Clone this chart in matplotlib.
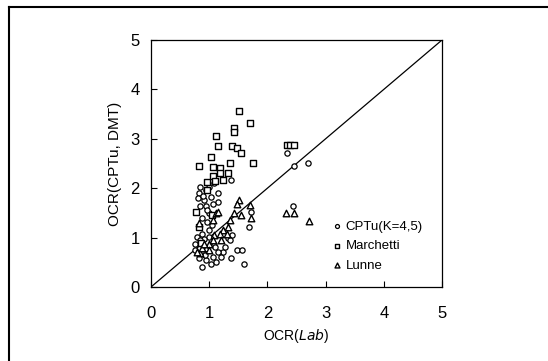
import matplotlib
matplotlib.use("Agg")
import matplotlib.pyplot as plt
from matplotlib.lines import Line2D

plt.rcParams['font.family'] = ['Liberation Sans', 'DejaVu Sans']

# CPTu (K=4.5)
cptu_x = [2.69, 2.45, 2.33, 2.44, 1.68, 1.72, 1.60, 1.38, 1.48, 1.56, 1.39, 1.33,
          1.15, 1.15, 1.38, 0.85, 0.82, 0.91, 0.85, 0.94, 1.00, 0.88, 0.97, 1.00,
          0.88, 0.76, 0.94, 1.03, 1.12, 1.21, 0.88, 0.82, 1.24, 1.27, 0.76, 1.00,
          1.03, 1.09, 0.94, 1.06, 1.36, 1.15, 1.07, 1.00, 1.09, 0.91, 0.79, 0.80,
          0.90, 0.96, 1.05, 0.84, 0.92, 1.10]
cptu_y = [2.52, 2.44, 2.71, 1.63, 1.22, 1.52, 0.47, 0.58, 0.75, 0.75, 1.05, 1.00,
          1.90, 1.73, 2.17, 2.03, 1.90, 1.76, 1.63, 1.63, 1.49, 1.39, 1.32, 1.15,
          1.08, 0.88, 0.54, 0.47, 0.51, 0.61, 0.41, 0.58, 0.71, 0.81, 0.75, 2.03,
          1.83, 2.10, 1.96, 1.69, 0.95, 0.71, 0.61, 1.01, 0.85, 0.98, 1.01, 1.80,
          1.85, 1.55, 1.25, 0.95, 0.65, 0.80]

# Marchetti
march_x = [0.82, 1.03, 1.12, 1.15, 1.07, 1.19, 1.06, 1.18, 1.24, 1.35, 1.33, 1.51,
           1.42, 1.42, 1.39, 1.47, 1.54, 1.70, 1.75, 0.97, 0.96, 0.78, 0.82, 1.05,
           2.33, 2.39, 2.45, 0.86, 1.10]
march_y = [2.44, 2.64, 3.06, 2.86, 2.42, 2.40, 2.24, 2.30, 2.17, 2.51, 2.30, 3.56,
           3.22, 3.13, 2.85, 2.81, 2.71, 3.32, 2.52, 2.13, 1.96, 1.52, 1.22, 1.46,
           2.87, 2.87, 2.87, 0.90, 2.15]

# Lunne
lunne_x = [2.32, 2.45, 2.71, 1.70, 1.72, 1.51, 1.47, 1.42, 1.54, 1.36, 1.33, 1.24,
           1.18, 1.12, 1.15, 1.06, 1.09, 1.00, 0.94, 0.85, 0.82, 0.88, 1.21, 1.06,
           1.00, 1.30, 0.91, 0.79]
lunne_y = [1.49, 1.49, 1.34, 1.66, 1.39, 1.76, 1.69, 1.49, 1.46, 1.36, 1.22, 1.15,
           1.08, 1.49, 1.52, 1.36, 1.05, 0.88, 0.78, 0.68, 1.29, 0.78, 0.95, 0.95,
           0.75, 1.08, 0.88, 0.71]

ticks = [0, 1, 2, 3, 4, 5]

fig = plt.figure(figsize=(5.48, 3.61), dpi=100)
ax = fig.add_axes([151 / 548, 1 - 287 / 361, 291 / 548, 247 / 361])

ax.plot([0, 5], [0, 5], color='black', lw=0.9, zorder=1)

ax.scatter(cptu_x, cptu_y, s=3.8 ** 2, marker='o', facecolors='white',
           edgecolors='black', linewidths=0.9, zorder=3, label='CPTu(K=4,5)')
ax.scatter(march_x, march_y, s=4.3 ** 2, marker='s', facecolors='white',
           edgecolors='black', linewidths=1.0, zorder=3, label='Marchetti')
ax.scatter(lunne_x, lunne_y, s=4.7 ** 2, marker='^', facecolors='white',
           edgecolors='black', linewidths=1.0, zorder=4, label='Lunne')

ax.set_xlim(0, 5)
ax.set_ylim(0, 5)
ax.set_xticks(ticks)
ax.set_yticks(ticks)
ax.tick_params(direction='in', length=4, width=0.8, labelsize=12)
ax.tick_params(axis='x', pad=14)
ax.tick_params(axis='y', pad=8)
for sp in ax.spines.values():
    sp.set_linewidth(0.9)

ax.set_ylabel('OCR(CPTu, DMT)', fontsize=11, labelpad=6)
ax.set_xlabel('OCR($\\it{Lab}$)', fontsize=10, labelpad=4)

leg = ax.legend(loc='upper left', bbox_to_anchor=(0.625, 0.27), frameon=False,
                fontsize=9.5, handlelength=0.6, handletextpad=0.35,
                labelspacing=0.55, borderpad=0, borderaxespad=0,
                markerscale=0.75)

# outer frame: top and left only
fig.add_artist(Line2D([9 / 548, 1], [1 - 7 / 361, 1 - 7 / 361], color='black', lw=1.5))
fig.add_artist(Line2D([9 / 548, 9 / 548], [0, 1 - 7 / 361], color='black', lw=1.5))

fig.savefig('out.png', dpi=100)
